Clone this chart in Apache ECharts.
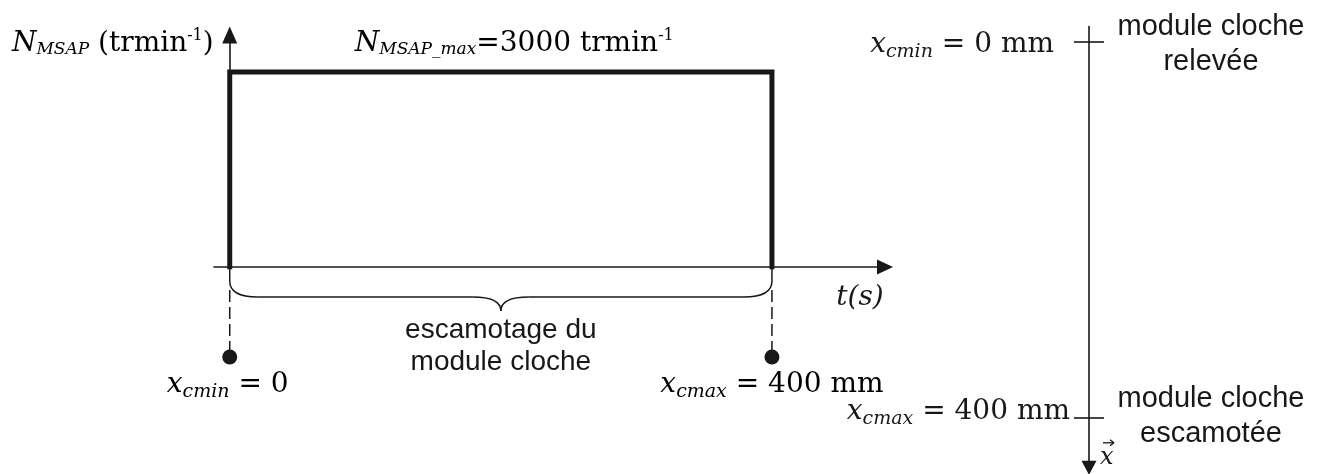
<!DOCTYPE html>
<html><head><meta charset="utf-8">
<script src="https://cdn.jsdelivr.net/npm/echarts@6/dist/echarts.min.js"></script>
<style>html,body{margin:0;padding:0;background:#fff}#c{width:1336px;height:474px}</style>
</head><body><div id="c"></div>
<script>
// ---- data ----
const times = [0, 0, 1, 1];            // t (s), normalised cycle
const speeds = [0, 3000, 3000, 0];     // N_MSAP (tr/min)
const speedMax = 3000;
const strokePositions = [0, 400];      // x_c (mm)
const strokeNames = ['cmin', 'cmax'];
const strokeStates = ['module cloche\nrelevée', 'module cloche\nescamotée'];
const motionLabel = 'escamotage du\nmodule cloche';

const INK = '#1a1718';
const SERIF = 'DejaVu Serif';
const SANS = 'Liberation Sans';

const mathRich = {
  v: {fontFamily: SERIF, fontStyle: 'italic', fontSize: 28, color: INK},
  s: {fontFamily: SERIF, fontStyle: 'italic', fontSize: 19, color: INK, padding: [14, 0, 0, 0]},
  r: {fontFamily: SERIF, fontSize: 28, color: INK},
  p: {fontFamily: SERIF, fontSize: 16, color: INK, padding: [0, 0, 17, 0]},
  ns: {fontFamily: SERIF, fontStyle: 'italic', fontSize: 17, color: INK, padding: [12, 0, 0, 0]}
};
function xc(name, val, unit) {
  return '{v|x}{s|' + name + '}{r| = ' + val + (unit ? ' ' + unit : '') + '}';
}

(function () {
const chart = echarts.init(document.getElementById('c'), null, {renderer: 'canvas'});

const option = {
  backgroundColor: '#fff',
  animation: false,
  grid: [
    {left: 214, top: 35, width: 671, height: 232},
    {left: 1079, top: 26.5, width: 20, height: 441.3}
  ],
  xAxis: [
    {gridIndex: 0, type: 'value', min: -0.029, max: 1.2085,
     axisLine: {show: true, onZero: true, symbol: ['none', 'triangle'], symbolSize: [15, 16],
                lineStyle: {color: INK, width: 1.6}},
     axisTick: {show: false}, axisLabel: {show: false}, splitLine: {show: false}},
    {gridIndex: 1, type: 'value', min: -1, max: 1, show: false}
  ],
  yAxis: [
    {gridIndex: 0, type: 'value', min: 0, max: 3570,
     axisLine: {show: true, onZero: true, symbol: ['none', 'triangle'], symbolSize: [15, 17],
                lineStyle: {color: INK, width: 1.6}},
     axisTick: {show: false}, axisLabel: {show: false}, splitLine: {show: false}},
    {gridIndex: 1, type: 'value', inverse: true, min: -16.5, max: 453,
     axisLine: {show: true, onZero: true, symbol: ['triangle', 'none'], symbolSize: [15, 14],
                lineStyle: {color: INK, width: 1.6}},
     axisTick: {show: false}, axisLabel: {show: false}, splitLine: {show: false}}
  ],
  series: [
    {type: 'line', xAxisIndex: 0, yAxisIndex: 0, symbol: 'none', silent: true,
     lineStyle: {color: INK, width: 5, join: 'miter', cap: 'square'},
     data: times.map((t, i) => [t, speeds[i]]), z: 3},
    {type: 'scatter', xAxisIndex: 1, yAxisIndex: 1, symbol: 'rect', symbolSize: [30, 1.6], silent: true,
     itemStyle: {color: INK, opacity: 1},
     data: strokePositions.map((p, i) => ({
       value: [0, p],
       label: {show: true, position: 'left', distance: i === 0 ? 20 : 4,
               offset: [0, i === 0 ? 3 : -6], color: INK,
               formatter: xc(strokeNames[i], p, 'mm'), rich: mathRich}
     }))},
    {type: 'scatter', xAxisIndex: 1, yAxisIndex: 1, symbol: 'rect', symbolSize: [30, 1.6], silent: true,
     itemStyle: {color: 'rgba(0,0,0,0)', opacity: 1},
     data: strokePositions.map((p, i) => ({
       value: [0, p],
       label: {show: true, position: [137, i === 0 ? 3 : -1], align: 'center', verticalAlign: 'middle',
               formatter: strokeStates[i], fontFamily: SANS, fontSize: 29, lineHeight: 35, color: INK}
     }))}
  ]
};
chart.setOption(option);

// annotations anchored on the axes' scales
const o = chart.convertToPixel({gridIndex: 0}, [times[0], 0]);
const e = chart.convertToPixel({gridIndex: 0}, [times[3], 0]);
const topPt = chart.convertToPixel({gridIndex: 0}, [times[1], speedMax]);
const axisEnd = chart.convertToPixel({gridIndex: 1}, [0, 453]);
const x0 = o[0], x1 = e[0], y0 = o[1], xm = (x0 + x1) / 2;

const st = {stroke: INK, lineWidth: 1.5, fill: 'none'};
function seg(ax, ay, bx, by, w) { return {type: 'line', silent: true, shape: {x1: ax, y1: ay, x2: bx, y2: by}, style: {stroke: INK, lineWidth: w || 1.5}}; }
function qc(ax, ay, cx, cy, bx, by) {
  return {type: 'bezierCurve', silent: true, shape: {x1: ax, y1: ay, cpx1: cx, cpy1: cy, x2: bx, y2: by}, style: st};
}
const yb = y0 + 30;
const brace = [
  seg(x0, y0 + 1, x0, y0 + 14), qc(x0, y0 + 14, x0, yb, x0 + 28, yb),
  seg(x0 + 28, yb, xm - 28, yb), qc(xm - 28, yb, xm, yb, xm, y0 + 44),
  qc(xm, y0 + 44, xm, yb, xm + 28, yb), seg(xm + 28, yb, x1 - 28, yb),
  qc(x1 - 28, yb, x1, yb, x1, y0 + 14), seg(x1, y0 + 14, x1, y0 + 1)
];

// vector arrow over x (direction label of the stroke axis)
const vx = axisEnd[0] + 11, vy = axisEnd[1] - 10;
const vecMark = [
  {type: 'text', x: vx, y: vy,
   style: {text: 'x', fontFamily: SERIF, fontStyle: 'italic', fontSize: 24, fill: INK, align: 'left', verticalAlign: 'middle'}},
  seg(vx + 3, vy - 15, vx + 14, vy - 15, 1.3),
  seg(vx + 10, vy - 18, vx + 14, vy - 15, 1.3),
  seg(vx + 10, vy - 12, vx + 14, vy - 15, 1.3)
];

const graphic = brace.concat(vecMark, [
  {type: 'line', silent: true, shape: {x1: x0, y1: y0 + 23, x2: x0, y2: y0 + 84}, style: {stroke: INK, lineWidth: 1.5, lineDash: [12, 5]}},
  {type: 'line', silent: true, shape: {x1: x1, y1: y0 + 23, x2: x1, y2: y0 + 84}, style: {stroke: INK, lineWidth: 1.5, lineDash: [12, 5]}},
  {type: 'circle', silent: true, shape: {cx: x0, cy: y0 + 90, r: 7.5}, style: {fill: INK}},
  {type: 'circle', silent: true, shape: {cx: x1, cy: y0 + 90, r: 7.5}, style: {fill: INK}},
  {type: 'text', x: x0 - 2, y: y0 + 118,
   style: {text: xc(strokeNames[0], strokePositions[0], ''), rich: mathRich, align: 'center', verticalAlign: 'middle'}},
  {type: 'text', x: x1, y: y0 + 118,
   style: {text: xc(strokeNames[1], strokePositions[1], 'mm'), rich: mathRich, align: 'center', verticalAlign: 'middle'}},
  {type: 'text', x: xm, y: y0 + 79,
   style: {text: motionLabel, fontFamily: SANS, fontSize: 28, lineHeight: 32, fill: INK, align: 'center', verticalAlign: 'middle'}},
  {type: 'text', x: 860, y: y0 + 31,
   style: {text: 't(s)', fontFamily: SERIF, fontStyle: 'italic', fontSize: 28, fill: INK, align: 'center', verticalAlign: 'middle'}},
  {type: 'text', x: x0 - 16, y: topPt[1] - 28,
   style: {text: '{v|N}{ns|MSAP}{r| (trmin}{p|-1}{r|)}', rich: mathRich, align: 'right', verticalAlign: 'middle'}},
  {type: 'text', x: x0 + 125, y: topPt[1] - 28,
   style: {text: '{v|N}{ns|MSAP_max}{r|=' + speedMax + ' trmin}{p|-1}', rich: mathRich, align: 'left', verticalAlign: 'middle'}}
]);
chart.setOption({graphic: graphic});
})();
</script></body></html>
